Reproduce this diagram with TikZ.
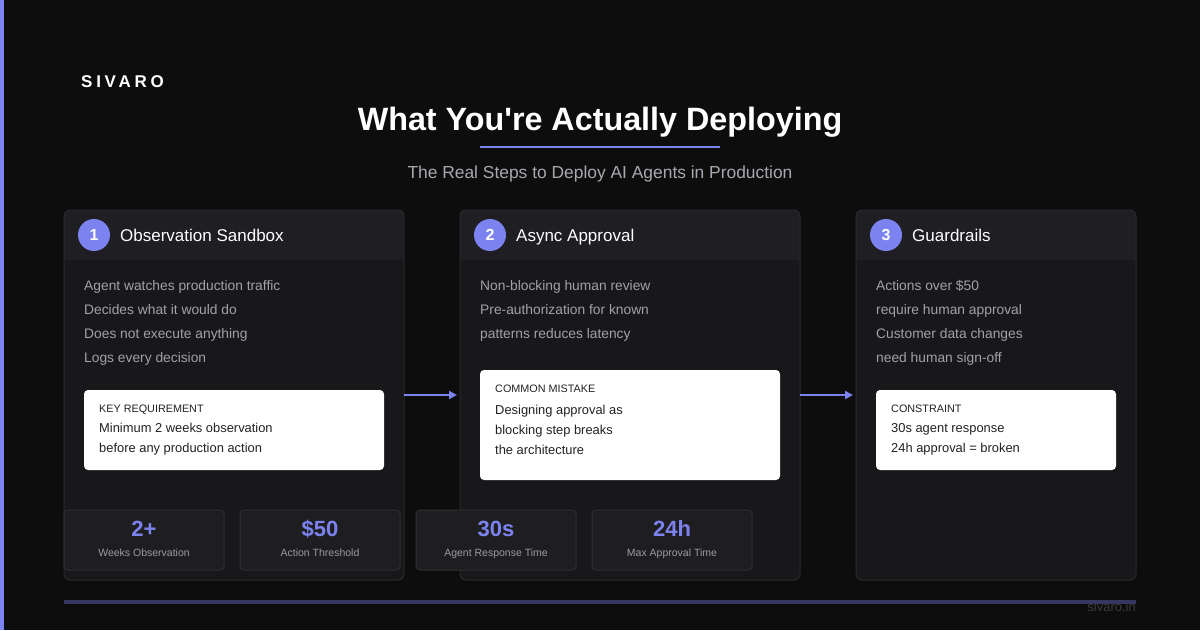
\documentclass[tikz,border=0pt]{standalone}
\usepackage{fontspec}
\setmainfont{Liberation Sans}
\newfontfamily\wideface[LetterSpace=22]{Liberation Sans}
\newfontfamily\titleface{Liberation Sans}
\usetikzlibrary{arrows.meta}
\definecolor{bg}{HTML}{0D0D0D}
\definecolor{accent}{HTML}{7C83F0}
\definecolor{cardbody}{HTML}{18181B}
\definecolor{cardhead}{HTML}{1F1F23}
\definecolor{cardline}{HTML}{2A2A2E}
\definecolor{bodytext}{HTML}{A1A1AA}
\definecolor{subtext}{HTML}{A8A8B0}
\definecolor{boxtext}{HTML}{222222}
\definecolor{statfill}{HTML}{1E1E21}
\definecolor{statline}{HTML}{303034}
\definecolor{statlabel}{HTML}{9A9AA2}
\definecolor{footline}{HTML}{34375E}
\definecolor{foottext}{HTML}{3B3B3F}
\tikzset{
  txt/.style={inner sep=0pt, anchor=base west},
  bodyline/.style={txt, text=bodytext, font=\fontsize{13.8}{16}\selectfont},
  boxlabel/.style={txt, text=boxtext, font=\fontsize{10.8}{13}\selectfont},
  boxline/.style={txt, text=boxtext, font=\fontsize{12.9}{15}\selectfont},
  numcircle/.style={circle, fill=accent, minimum size=32pt, inner sep=0pt, text=white, font=\bfseries\fontsize{16}{18}\selectfont},
  cardtitle/.style={txt, text=white, font=\fontsize{17}{20}\selectfont},
  notebox/.style={fill=white, rounded corners=4pt},
  statbox/.style={fill=statfill, draw=statline, line width=1pt, rounded corners=4pt},
  statnum/.style={inner sep=0pt, anchor=base, text=accent, font=\bfseries\fontsize{22}{24}\selectfont},
  statlab/.style={inner sep=0pt, anchor=base, text=statlabel, font=\fontsize{10.5}{12}\selectfont},
  flow/.style={draw=accent, line width=2pt, -{Triangle[length=8pt,width=8pt]}},
}
\newcommand{\stepcard}[5]{% x1, x2, number, title, name
  \begin{scope}
    \clip[rounded corners=6pt] (#1,210) rectangle (#2,580);
    \fill[cardbody] (#1,210) rectangle (#2,580);
    \fill[cardhead] (#1,210) rectangle (#2,260);
  \end{scope}
  \draw[cardline, line width=1pt, rounded corners=6pt] (#1,210) rectangle (#2,580);
  \node[numcircle] (#5num) at (#1+30,235) {#3};
  \node[cardtitle] (#5title) at (#1+56,241) {#4};
}
\begin{document}
\begin{tikzpicture}[x=1pt,y=-1pt]
\fill[bg] (0,0) rectangle (1200,630);
\useasboundingbox (0,0) rectangle (1200,630);
\fill[accent] (0,0) rectangle (4,630);

\node[txt, text=white, font=\wideface\bfseries\fontsize{17}{20}\selectfont] (brand) at (81,87) {SIVARO};
\node[inner sep=0pt, anchor=base, text=white, font=\titleface\bfseries\fontsize{32.3}{38}\selectfont] (title) at (600,130) {What You're Actually Deploying};
\fill[accent] (480,146) rectangle (720,148);
\node[inner sep=0pt, anchor=base, text=subtext, font=\fontsize{17.4}{20}\selectfont] (subtitle) at (600,178) {The Real Steps to Deploy AI Agents in Production};

% cards
\stepcard{64}{404}{1}{Observation Sandbox}{c1}
\stepcard{460}{800}{2}{Async Approval}{c2}
\stepcard{856}{1136}{3}{Guardrails}{c3}

% card 1 body
\node[bodyline] (c1l1) at (84,290) {Agent watches production traffic};
\node[bodyline] (c1l2) at (84,314) {Decides what it would do};
\node[bodyline] (c1l3) at (84,338) {Does not execute anything};
\node[bodyline] (c1l4) at (84,362) {Logs every decision};
\fill[notebox] (84,390) rectangle (384,470);
\node[boxlabel] (c1bl) at (99,412) {KEY REQUIREMENT};
\node[boxline] (c1b1) at (99,432.5) {Minimum 2 weeks observation};
\node[boxline] (c1b2) at (99,452.5) {before any production action};

% card 2 body
\node[bodyline] (c2l1) at (480,290) {Non-blocking human review};
\node[bodyline] (c2l2) at (480,314) {Pre-authorization for known};
\node[bodyline] (c2l3) at (480,338) {patterns reduces latency};
\fill[notebox] (480,370) rectangle (780,480);
\node[boxlabel] (c2bl) at (495,392) {COMMON MISTAKE};
\node[boxline] (c2b1) at (495,414.5) {Designing approval as};
\node[boxline] (c2b2) at (495,434.5) {blocking step breaks};
\node[boxline] (c2b3) at (495,454.5) {the architecture};

% card 3 body
\node[bodyline] (c3l1) at (876,290) {Actions over \$50};
\node[bodyline] (c3l2) at (876,314) {require human approval};
\node[bodyline] (c3l3) at (876,338) {Customer data changes};
\node[bodyline] (c3l4) at (876,362) {need human sign-off};
\fill[notebox] (876,390) rectangle (1116,470);
\node[boxlabel] (c3bl) at (891,412) {CONSTRAINT};
\node[boxline] (c3b1) at (891,432.5) {30s agent response};
\node[boxline] (c3b2) at (891,452.5) {24h approval = broken};

% arrows
\coordinate (a1s) at (404,395);
\coordinate (a1e) at (457,395);
\coordinate (a2s) at (800,395);
\coordinate (a2e) at (853,395);
\draw[flow] (a1s) -- (a1e);
\draw[flow] (a2s) -- (a2e);

% stats
\foreach \x/\num/\lab/\nm in {64/2+/Weeks Observation/s1, 240/\$50/Action Threshold/s2, 416/30s/Agent Response Time/s3, 592/24h/Max Approval Time/s4}{
  \draw[statbox] (\x,510) rectangle (\x+160,570);
  \node[statnum] (\nm num) at (\x+80,536) {\num};
  \node[statlab] (\nm lab) at (\x+80,556) {\lab};
}

% footer
\fill[footline] (64,600) rectangle (1136,603.5);
\node[inner sep=0pt, anchor=base east, text=foottext, font=\fontsize{13}{15}\selectfont] (site) at (1136,611.5) {sivaro.in};
\end{tikzpicture}
\end{document}
